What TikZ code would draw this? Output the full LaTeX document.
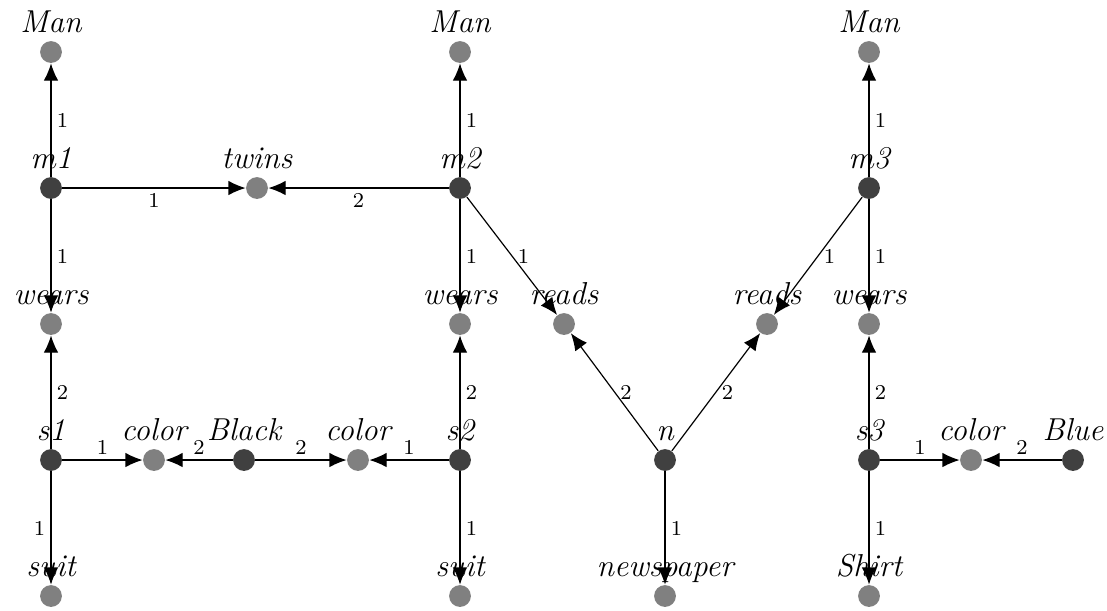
\documentclass[tikz,border=0pt]{standalone}
\usepackage{tikz}
\usetikzlibrary{arrows.meta}

\begin{document}
\begin{tikzpicture}[x=0.0133cm, y=-0.0133cm,
    var/.style = {circle, fill=black!75, minimum size=0.29cm, inner sep=0pt},
    lit/.style = {circle, fill=black!50, minimum size=0.29cm, inner sep=0pt},
    every label/.style = {font=\fontsize{12}{14}\selectfont\itshape, inner sep=1pt, text height=1.6ex, text depth=0.1ex},
    label distance = 1.5pt,
    arc/.style = {-{Latex[length=6.5pt,width=5.5pt]}, line width=0.45pt},
    num/.style = {font=\footnotesize, inner sep=2pt}]
    \useasboundingbox (0,0) rectangle (1107,610);
    % men
    \node[lit, label=above:Man] (man1) at (51,52) {};
    \node[lit, label=above:Man] (man2) at (460,52) {};
    \node[lit, label=above:Man] (man3) at (869,52) {};
    \node[var, label=above:m1] (m1) at (51,188) {};
    \node[lit, label=above:twins] (twins) at (257,188) {};
    \node[var, label=above:m2] (m2) at (460,188) {};
    \node[var, label=above:m3] (m3) at (869,188) {};
    % relations
    \node[lit, label=above:wears] (wears1) at (51,324) {};
    \node[lit, label=above:wears] (wears2) at (460,324) {};
    \node[lit, label=above:reads] (reads1) at (564,324) {};
    \node[lit, label=above:reads] (reads2) at (767,324) {};
    \node[lit, label=above:wears] (wears3) at (869,324) {};
    % things
    \node[var, label=above:s1] (s1) at (51,460) {};
    \node[lit, label=above:color] (col1) at (154,460) {};
    \node[var, label=above:Black] (black) at (244,460) {};
    \node[lit, label=above:color] (col2) at (358,460) {};
    \node[var, label=above:s2] (s2) at (460,460) {};
    \node[var, label=above:n] (n) at (665,460) {};
    \node[var, label=above:s3] (s3) at (869,460) {};
    \node[lit, label=above:color] (col3) at (971,460) {};
    \node[var, label=above:Blue] (blue) at (1073,460) {};
    \node[lit, label=above:suit] (suit1) at (51,596) {};
    \node[lit, label=above:suit] (suit2) at (460,596) {};
    \node[lit, label=above:newspaper] (news) at (665,596) {};
    \node[lit, label=above:Shirt] (shirt) at (869,596) {};

    \draw[arc] (m1) -- node[num, right] {1} (man1);
    \draw[arc] (m2) -- node[num, right] {1} (man2);
    \draw[arc] (m3) -- node[num, right] {1} (man3);
    \draw[arc] (m1) -- node[num, below] {1} (twins);
    \draw[arc] (m2) -- node[num, below] {2} (twins);
    \draw[arc] (m1) -- node[num, right] {1} (wears1);
    \draw[arc] (m2) -- node[num, right] {1} (wears2);
    \draw[arc] (m2) -- node[num, right] {1} (reads1);
    \draw[arc] (m3) -- node[num, right] {1} (reads2);
    \draw[arc] (m3) -- node[num, right] {1} (wears3);
    \draw[arc] (s1) -- node[num, right] {2} (wears1);
    \draw[arc] (s2) -- node[num, right] {2} (wears2);
    \draw[arc] (n) -- node[num, right] {2} (reads1);
    \draw[arc] (n) -- node[num, right] {2} (reads2);
    \draw[arc] (s3) -- node[num, right] {2} (wears3);
    \draw[arc] (s1) -- node[num, above] {1} (col1);
    \draw[arc] (black) -- node[num, above] {2} (col1);
    \draw[arc] (black) -- node[num, above] {2} (col2);
    \draw[arc] (s2) -- node[num, above] {1} (col2);
    \draw[arc] (s3) -- node[num, above] {1} (col3);
    \draw[arc] (blue) -- node[num, above] {2} (col3);
    \draw[arc] (s1) -- node[num, left] {1} (suit1);
    \draw[arc] (s2) -- node[num, right] {1} (suit2);
    \draw[arc] (n) -- node[num, right] {1} (news);
    \draw[arc] (s3) -- node[num, right] {1} (shirt);
\end{tikzpicture}
\end{document}
